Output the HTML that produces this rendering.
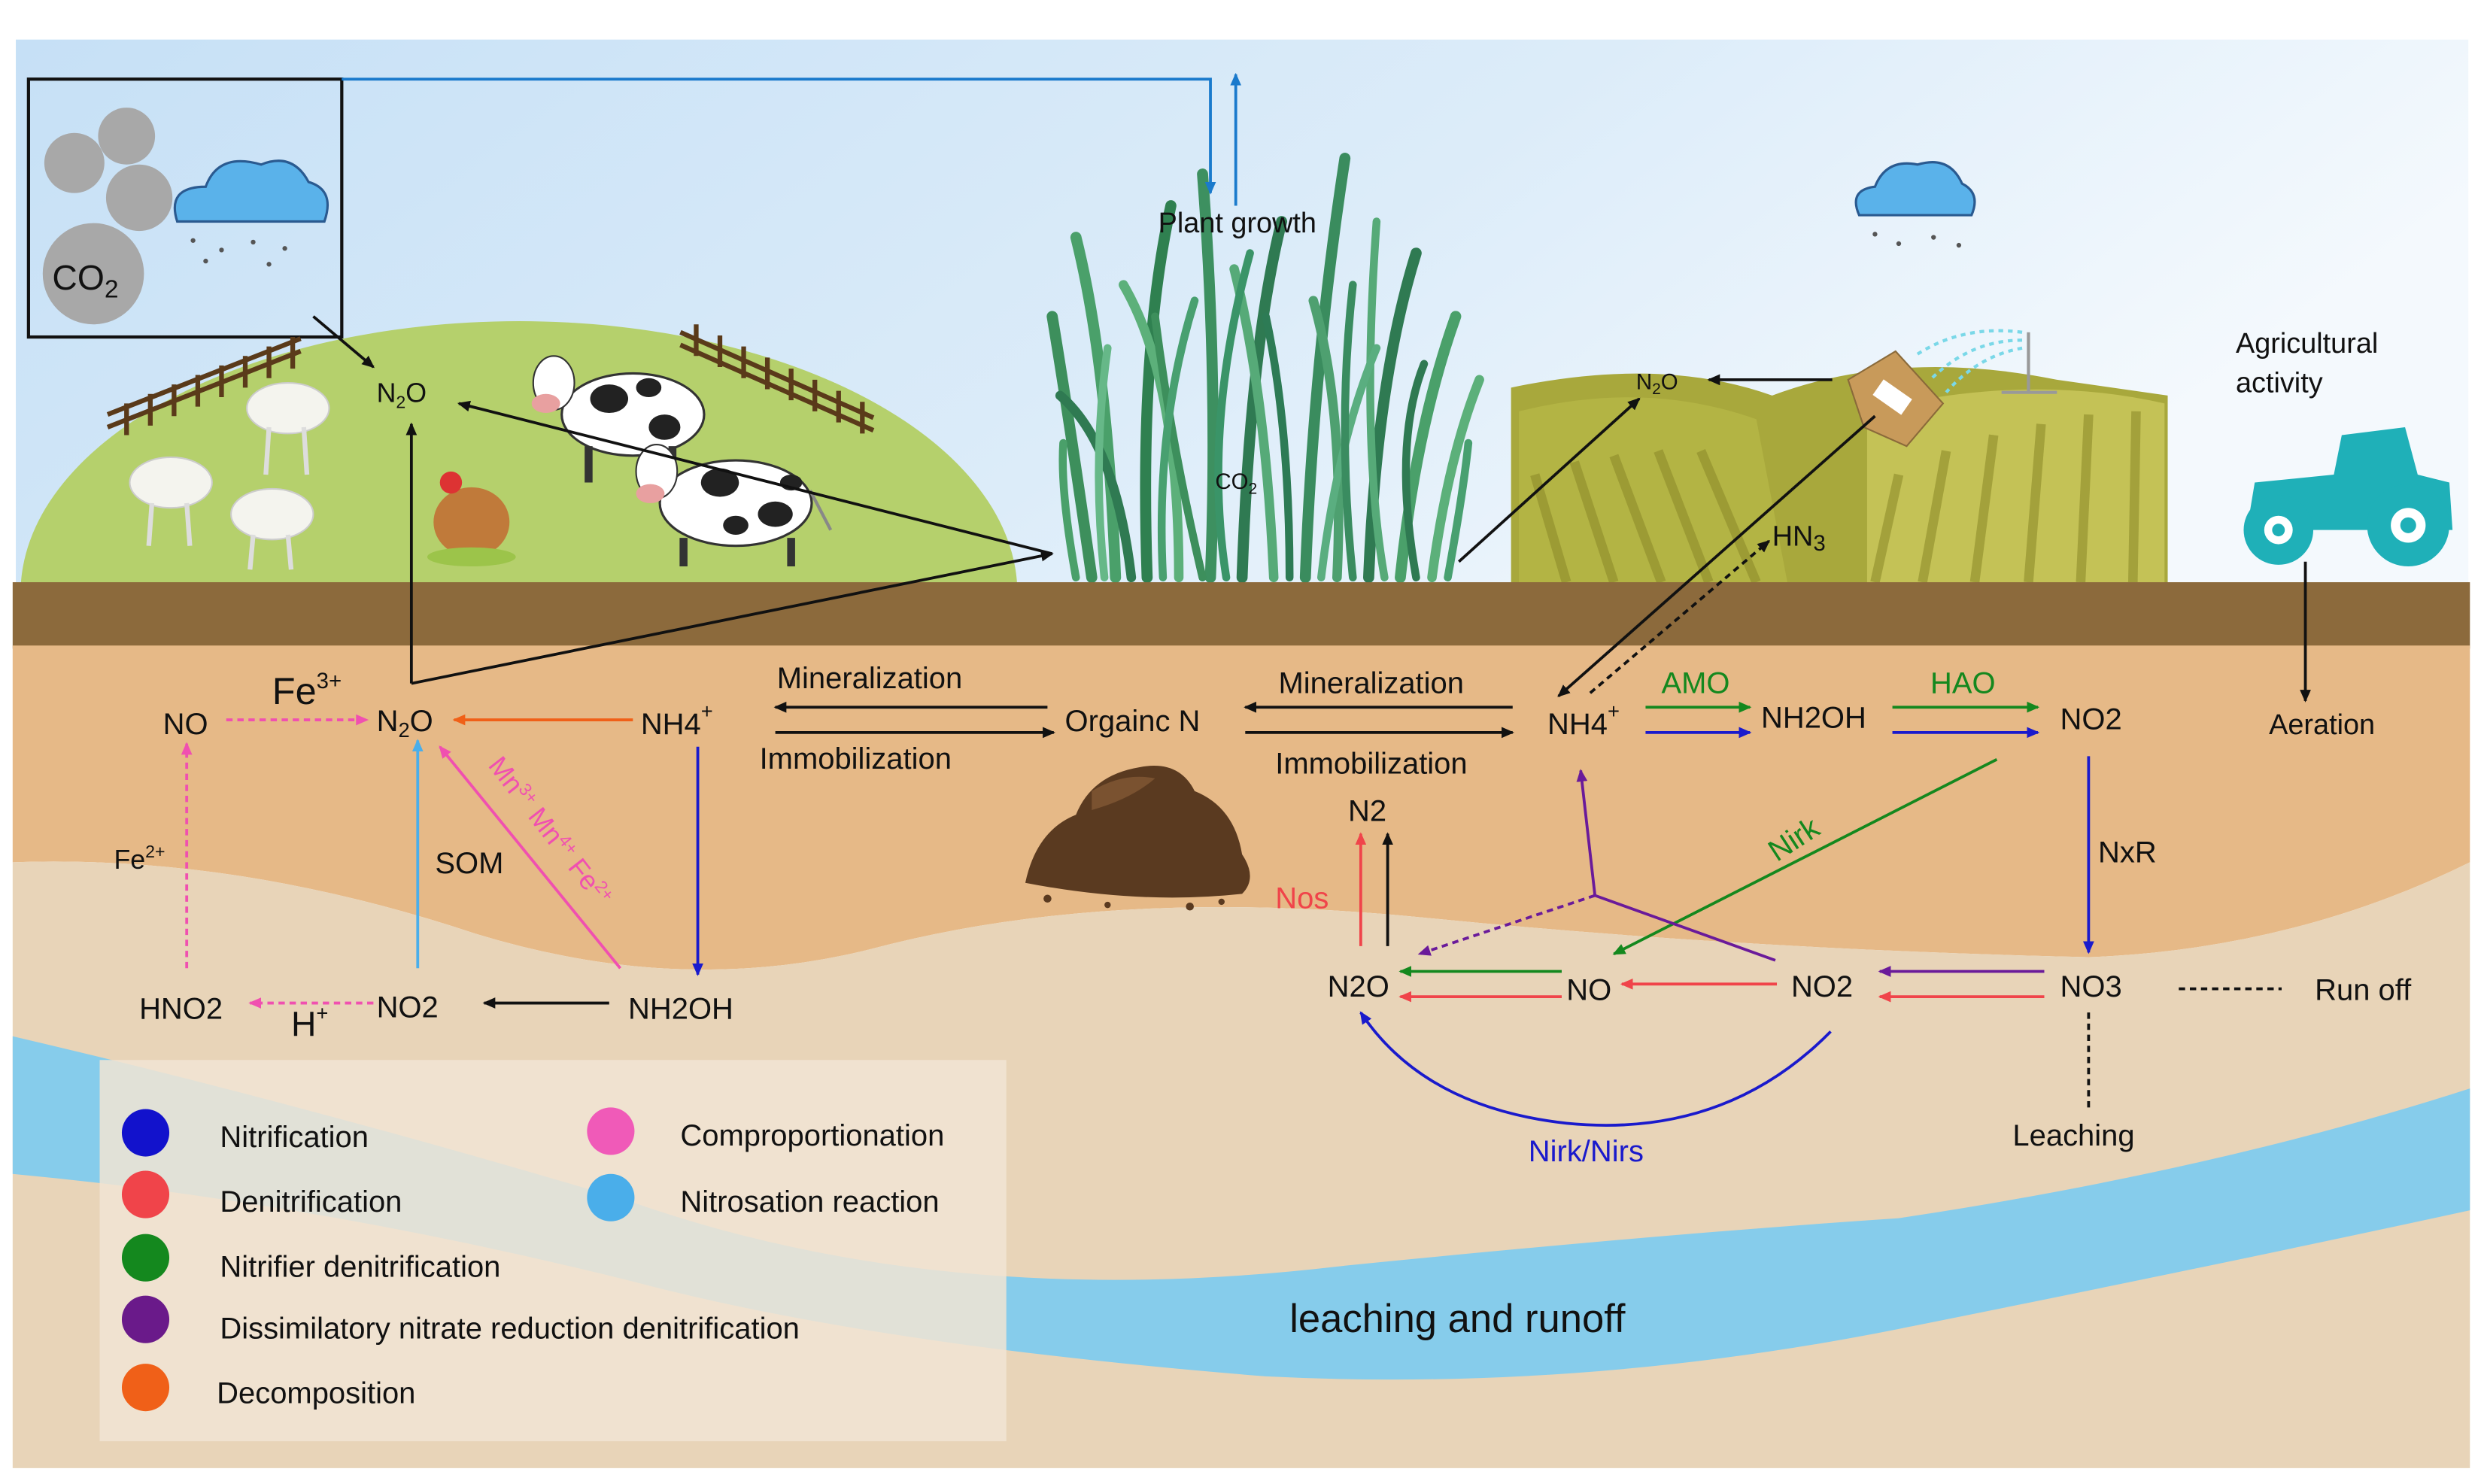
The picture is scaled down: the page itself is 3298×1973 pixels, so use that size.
<!DOCTYPE html>
<html><head><meta charset="utf-8">
<style>
html,body{margin:0;padding:0;background:#fff;}
svg{display:block;}
text{font-family:"Liberation Sans",Arial,sans-serif;}
</style></head>
<body>
<svg width="3298" height="1973" viewBox="0 0 1568 938" xmlns="http://www.w3.org/2000/svg">
<defs>
<linearGradient id="sky" x1="0" y1="0" x2="1" y2="0.3">
<stop offset="0" stop-color="#c6e0f6"/><stop offset="0.6" stop-color="#dcecf9"/><stop offset="1" stop-color="#f4f9fd"/>
</linearGradient>
<marker id="ak" markerWidth="8" markerHeight="8" refX="7" refY="4" orient="auto" markerUnits="userSpaceOnUse"><path d="M0,0.5 L8,4 L0,7.5z" fill="#111"/></marker>
<marker id="ab" markerWidth="8" markerHeight="8" refX="7" refY="4" orient="auto" markerUnits="userSpaceOnUse"><path d="M0,0.5 L8,4 L0,7.5z" fill="#1a1acc"/></marker>
<marker id="ar" markerWidth="8" markerHeight="8" refX="7" refY="4" orient="auto" markerUnits="userSpaceOnUse"><path d="M0,0.5 L8,4 L0,7.5z" fill="#f0444a"/></marker>
<marker id="ag" markerWidth="8" markerHeight="8" refX="7" refY="4" orient="auto" markerUnits="userSpaceOnUse"><path d="M0,0.5 L8,4 L0,7.5z" fill="#14881e"/></marker>
<marker id="ap" markerWidth="8" markerHeight="8" refX="7" refY="4" orient="auto" markerUnits="userSpaceOnUse"><path d="M0,0.5 L8,4 L0,7.5z" fill="#6a1a9a"/></marker>
<marker id="ao" markerWidth="8" markerHeight="8" refX="7" refY="4" orient="auto" markerUnits="userSpaceOnUse"><path d="M0,0.5 L8,4 L0,7.5z" fill="#f06018"/></marker>
<marker id="am" markerWidth="8" markerHeight="8" refX="7" refY="4" orient="auto" markerUnits="userSpaceOnUse"><path d="M0,0.5 L8,4 L0,7.5z" fill="#f050b0"/></marker>
<marker id="al" markerWidth="8" markerHeight="8" refX="7" refY="4" orient="auto" markerUnits="userSpaceOnUse"><path d="M0,0.5 L8,4 L0,7.5z" fill="#4aaeea"/></marker>
<marker id="as" markerWidth="8" markerHeight="8" refX="7" refY="4" orient="auto" markerUnits="userSpaceOnUse"><path d="M0,0.5 L8,4 L0,7.5z" fill="#1a7acc"/></marker>
</defs>

<rect x="10" y="25" width="1550" height="345" fill="url(#sky)"/>
<ellipse cx="328" cy="375" rx="315" ry="172" fill="#b5d06c"/>
<path d="M955,245 Q1050,225 1120,250 Q1200,220 1300,240 L1370,250 L1370,370 L955,370z" fill="#a8a83c"/>
<path d="M960,260 Q1040,240 1110,265 L1130,370 L960,370z" fill="#b3b444"/>
<path d="M1180,260 Q1280,235 1368,255 L1368,370 L1180,370z" fill="#c4c256"/>
<g stroke="#8e8c2a" stroke-width="6" opacity="0.6">
<line x1="970" y1="300" x2="990" y2="368"/><line x1="995" y1="292" x2="1020" y2="368"/><line x1="1020" y1="288" x2="1050" y2="368"/><line x1="1048" y1="285" x2="1080" y2="368"/><line x1="1075" y1="285" x2="1110" y2="368"/>
<line x1="1200" y1="300" x2="1185" y2="368"/><line x1="1230" y1="285" x2="1215" y2="368"/><line x1="1260" y1="275" x2="1248" y2="368"/><line x1="1290" y1="268" x2="1282" y2="368"/><line x1="1320" y1="262" x2="1315" y2="368"/><line x1="1350" y1="260" x2="1348" y2="368"/>
</g>
<!-- grass -->
<g stroke-linecap="round" fill="none">
<path d="M690,365 Q675,260 665,200" stroke="#3d8f5c" stroke-width="7"/>
<path d="M705,365 Q700,230 680,150" stroke="#4aa06a" stroke-width="7"/>
<path d="M725,365 Q720,220 740,130" stroke="#2f8050" stroke-width="7"/>
<path d="M745,365 Q745,240 710,180" stroke="#5cb07a" stroke-width="6"/>
<path d="M765,365 Q770,240 760,110" stroke="#3d9060" stroke-width="7"/>
<path d="M785,365 Q790,220 810,140" stroke="#2f7a52" stroke-width="7"/>
<path d="M805,365 Q800,250 780,170" stroke="#56aa78" stroke-width="6"/>
<path d="M825,365 Q830,230 850,100" stroke="#3a8c5e" stroke-width="7"/>
<path d="M845,365 Q850,260 830,190" stroke="#4ea070" stroke-width="6"/>
<path d="M865,365 Q870,240 895,160" stroke="#2f7a52" stroke-width="7"/>
<path d="M885,365 Q895,270 920,200" stroke="#4aa06a" stroke-width="7"/>
<path d="M905,365 Q915,290 935,240" stroke="#5cb07a" stroke-width="6"/>
<path d="M715,365 Q705,280 670,250" stroke="#2f7a52" stroke-width="6"/>
<path d="M760,365 Q740,280 730,200" stroke="#3d8f5c" stroke-width="5"/>
<path d="M875,365 Q860,280 870,140" stroke="#56aa78" stroke-width="5"/>
<path d="M698,365 Q690,290 700,220" stroke="#66b888" stroke-width="5"/>
<path d="M735,365 Q730,270 755,190" stroke="#48a070" stroke-width="5"/>
<path d="M775,365 Q760,270 790,160" stroke="#3a9468" stroke-width="5"/>
<path d="M815,365 Q815,270 800,200" stroke="#2d7b55" stroke-width="5"/>
<path d="M835,365 Q845,280 870,220" stroke="#5aae80" stroke-width="5"/>
<path d="M855,365 Q845,270 855,180" stroke="#3a8c60" stroke-width="5"/>
<path d="M895,365 Q880,280 900,230" stroke="#2f7a52" stroke-width="5"/>
<path d="M915,365 Q925,310 928,280" stroke="#48a070" stroke-width="5"/>
<path d="M680,365 Q670,310 672,280" stroke="#4aa06a" stroke-width="5"/>
</g>
<rect x="8" y="368" width="1553" height="42" fill="#8c6a3c"/>
<path d="M8,408 L1561,408 L1561,545 Q1450,600 1320,605 Q1100,600 900,580 Q700,560 550,600 Q430,630 300,590 Q150,540 8,545z" fill="#e6b987"/>
<path d="M8,545 Q150,540 300,590 Q430,630 550,600 Q700,560 900,580 Q1100,600 1320,605 Q1450,600 1561,545 L1561,928 L8,928z" fill="#e8d4b8"/>
<path d="M8,655 Q200,700 400,760 Q600,830 850,800 Q1050,780 1200,770 Q1400,740 1561,688 L1561,765 Q1400,800 1200,840 Q1000,880 800,870 Q550,850 400,810 Q200,760 8,742z" fill="#86cceb"/>
<!-- soil heap -->
<path d="M648,558 Q655,525 680,515 Q690,490 720,485 Q745,480 755,500 Q780,510 785,540 Q795,555 785,565 Q720,572 648,558 Z" fill="#5a3a20"/>
<path d="M690,500 Q710,488 730,492 Q715,505 690,512z" fill="#7a5230"/>
<g fill="#5a3a20"><circle cx="662" cy="568" r="2.5"/><circle cx="700" cy="572" r="2"/><circle cx="752" cy="573" r="2.5"/><circle cx="772" cy="570" r="2"/></g>
<rect x="63" y="670" width="573" height="241" fill="#f1e4d4" opacity="0.85"/>

<rect x="18" y="50" width="198" height="163" fill="none" stroke="#111" stroke-width="2"/>
<circle cx="80" cy="86" r="18" fill="#a8a8a8"/>
<circle cx="47" cy="103" r="19" fill="#a8a8a8"/>
<circle cx="88" cy="125" r="21" fill="#a8a8a8"/>
<circle cx="59" cy="173" r="32" fill="#a8a8a8"/>
<text x="33" y="183" font-size="22" fill="#111">CO<tspan font-size="16" dy="5">2</tspan></text>
<g fill="#5ab2ea" stroke="#2a5a90" stroke-width="1.5">
<path d="M112,140 Q105,118 130,118 Q138,96 165,104 Q185,96 195,115 Q212,120 205,140z"/>
<path d="M1175,136 Q1168,120 1185,118 Q1192,100 1212,104 Q1232,98 1240,116 Q1252,122 1246,136z"/>
</g>
<g fill="#555"><circle cx="122" cy="152" r="1.5"/><circle cx="140" cy="158" r="1.5"/><circle cx="160" cy="153" r="1.5"/><circle cx="180" cy="157" r="1.5"/><circle cx="130" cy="165" r="1.5"/><circle cx="170" cy="167" r="1.5"/><circle cx="1185" cy="148" r="1.5"/><circle cx="1200" cy="154" r="1.5"/><circle cx="1222" cy="150" r="1.5"/><circle cx="1238" cy="155" r="1.5"/></g>

<g stroke="#5a3a1a" stroke-width="3">
<line x1="68" y1="270" x2="190" y2="222"/><line x1="68" y1="262" x2="190" y2="214"/>
<line x1="430" y1="218" x2="552" y2="272"/><line x1="430" y1="210" x2="552" y2="264"/>
<line x1="80" y1="255" x2="80" y2="275"/><line x1="95" y1="249" x2="95" y2="269"/><line x1="110" y1="243" x2="110" y2="263"/><line x1="125" y1="237" x2="125" y2="257"/><line x1="140" y1="231" x2="140" y2="251"/><line x1="155" y1="225" x2="155" y2="245"/><line x1="170" y1="219" x2="170" y2="239"/><line x1="185" y1="213" x2="185" y2="233"/>
<line x1="440" y1="205" x2="440" y2="225"/><line x1="455" y1="212" x2="455" y2="232"/><line x1="470" y1="219" x2="470" y2="239"/><line x1="485" y1="226" x2="485" y2="246"/><line x1="500" y1="233" x2="500" y2="253"/><line x1="515" y1="240" x2="515" y2="260"/><line x1="530" y1="247" x2="530" y2="267"/><line x1="545" y1="254" x2="545" y2="274"/>
</g>
<g fill="#f4f4ee" stroke="#ccc">
<ellipse cx="182" cy="258" rx="26" ry="16"/><ellipse cx="108" cy="305" rx="26" ry="16"/><ellipse cx="172" cy="325" rx="26" ry="16"/>
</g>
<g stroke="#ddd" stroke-width="3"><line x1="170" y1="270" x2="168" y2="300"/><line x1="192" y1="270" x2="194" y2="300"/><line x1="96" y1="318" x2="94" y2="345"/><line x1="118" y1="318" x2="120" y2="345"/><line x1="160" y1="338" x2="158" y2="360"/><line x1="182" y1="338" x2="184" y2="360"/></g>
<ellipse cx="298" cy="330" rx="24" ry="22" fill="#c07a3a"/><circle cx="285" cy="305" r="7" fill="#d33"/>
<ellipse cx="298" cy="352" rx="28" ry="6" fill="#9cc44a"/>
<g>
<ellipse cx="400" cy="262" rx="45" ry="26" fill="#fff" stroke="#333" stroke-width="1.5"/>
<ellipse cx="350" cy="242" rx="13" ry="17" fill="#fff" stroke="#333"/>
<ellipse cx="345" cy="255" rx="9" ry="6" fill="#e8a0a0"/>
<ellipse cx="385" cy="252" rx="12" ry="9" fill="#222"/><ellipse cx="420" cy="270" rx="10" ry="8" fill="#222"/><ellipse cx="410" cy="245" rx="8" ry="6" fill="#222"/>
<g stroke="#333" stroke-width="5"><line x1="372" y1="282" x2="372" y2="305"/><line x1="425" y1="282" x2="425" y2="305"/></g>
<ellipse cx="465" cy="318" rx="48" ry="27" fill="#fff" stroke="#333" stroke-width="1.5"/>
<ellipse cx="415" cy="298" rx="13" ry="17" fill="#fff" stroke="#333"/>
<ellipse cx="411" cy="312" rx="9" ry="6" fill="#e8a0a0"/>
<ellipse cx="455" cy="305" rx="12" ry="9" fill="#222"/><ellipse cx="490" cy="325" rx="11" ry="8" fill="#222"/><ellipse cx="465" cy="332" rx="8" ry="6" fill="#222"/><ellipse cx="500" cy="305" rx="7" ry="5" fill="#222"/>
<g stroke="#333" stroke-width="5"><line x1="432" y1="340" x2="432" y2="358"/><line x1="500" y1="340" x2="500" y2="358"/></g>
<line x1="512" y1="310" x2="525" y2="335" stroke="#888" stroke-width="2"/>
</g>
<path d="M1168,240 L1198,222 L1228,255 L1205,282 L1178,270z" fill="#c89a5a" stroke="#8a6a3a"/>
<rect x="1185" y="245" width="22" height="12" fill="#fff" transform="rotate(35 1196 251)"/>
<line x1="1282" y1="210" x2="1282" y2="248" stroke="#999" stroke-width="2"/><line x1="1265" y1="248" x2="1300" y2="248" stroke="#999" stroke-width="2"/>
<g stroke="#7ad8e8" stroke-width="2" stroke-dasharray="3,3" fill="none"><path d="M1278,210 Q1240,205 1210,225"/><path d="M1278,215 Q1245,215 1220,240"/><path d="M1278,220 Q1250,225 1230,248"/></g>
<g fill="#1fb0b8">
<path d="M1425,305 L1475,300 L1480,275 L1520,270 L1528,300 L1548,305 L1550,335 L1420,335z"/>
<circle cx="1440" cy="335" r="22"/><circle cx="1522" cy="332" r="26"/>
</g>
<circle cx="1440" cy="335" r="9" fill="#fff"/><circle cx="1522" cy="332" r="11" fill="#fff"/>
<circle cx="1440" cy="335" r="4" fill="#1fb0b8"/><circle cx="1522" cy="332" r="5" fill="#1fb0b8"/>

<polyline points="216,50 765,50 765,122" fill="none" stroke="#1a7acc" stroke-width="1.8" marker-end="url(#as)"/>
<line x1="781" y1="130" x2="781" y2="47" stroke="#1a7acc" stroke-width="1.8" marker-end="url(#as)"/>
<g stroke="#111" stroke-width="1.8" fill="none">
<line x1="198" y1="200" x2="236" y2="232" marker-end="url(#ak)"/>
<line x1="665" y1="350" x2="290" y2="255" marker-end="url(#ak)"/>
<polyline points="260,432 260,268" marker-end="url(#ak)"/>
<line x1="260" y1="432" x2="665" y2="350" marker-end="url(#ak)"/>
<line x1="922" y1="355" x2="1036" y2="252" marker-end="url(#ak)"/>
<line x1="1158" y1="240" x2="1080" y2="240" marker-end="url(#ak)"/>
<line x1="1185" y1="263" x2="985" y2="440" marker-end="url(#ak)"/>
<line x1="1005" y1="438" x2="1118" y2="342" stroke-dasharray="4,3" marker-end="url(#ak)"/>
<line x1="1457" y1="355" x2="1457" y2="443" marker-end="url(#ak)"/>
</g>
<g font-size="18" fill="#111">
<text x="732" y="147">Plant growth</text>
<text x="238" y="254" font-size="17">N<tspan font-size="11" dy="4">2</tspan><tspan dy="-4">O</tspan></text>
<text x="768" y="309" font-size="14">CO<tspan font-size="10" dy="3">2</tspan></text>
<text x="1034" y="246" font-size="14">N<tspan font-size="10" dy="3">2</tspan><tspan dy="-3">O</tspan></text>
<text x="1120" y="345">HN<tspan font-size="14" dy="3">3</tspan></text>
<text x="1413" y="223">Agricultural</text>
<text x="1413" y="248">activity</text>
<text x="1434" y="464">Aeration</text>
</g>

<g stroke-width="1.8" fill="none">
<line x1="143" y1="455" x2="232" y2="455" stroke="#f050b0" stroke-dasharray="4,3" marker-end="url(#am)"/>
<line x1="400" y1="455" x2="287" y2="455" stroke="#f06018" marker-end="url(#ao)"/>
<line x1="118" y1="612" x2="118" y2="470" stroke="#f050b0" stroke-dasharray="4,3" marker-end="url(#am)"/>
<line x1="264" y1="612" x2="264" y2="468" stroke="#4aaeea" marker-end="url(#al)"/>
<line x1="392" y1="612" x2="278" y2="472" stroke="#f050b0" marker-end="url(#am)"/>
<line x1="441" y1="472" x2="441" y2="616" stroke="#1a1acc" marker-end="url(#ab)"/>
<line x1="385" y1="634" x2="306" y2="634" stroke="#111" marker-end="url(#ak)"/>
<line x1="236" y1="634" x2="158" y2="634" stroke="#f050b0" stroke-dasharray="4,3" marker-end="url(#am)"/>
<line x1="662" y1="447" x2="490" y2="447" stroke="#111" marker-end="url(#ak)"/>
<line x1="490" y1="463" x2="666" y2="463" stroke="#111" marker-end="url(#ak)"/>
<line x1="956" y1="447" x2="787" y2="447" stroke="#111" marker-end="url(#ak)"/>
<line x1="787" y1="463" x2="956" y2="463" stroke="#111" marker-end="url(#ak)"/>
<line x1="1040" y1="447" x2="1106" y2="447" stroke="#14881e" marker-end="url(#ag)"/>
<line x1="1040" y1="463" x2="1106" y2="463" stroke="#1a1acc" marker-end="url(#ab)"/>
<line x1="1196" y1="447" x2="1288" y2="447" stroke="#14881e" marker-end="url(#ag)"/>
<line x1="1196" y1="463" x2="1288" y2="463" stroke="#1a1acc" marker-end="url(#ab)"/>
<line x1="1320" y1="478" x2="1320" y2="602" stroke="#1a1acc" marker-end="url(#ab)"/>
<line x1="1262" y1="480" x2="1020" y2="603" stroke="#14881e" marker-end="url(#ag)"/>
<line x1="860" y1="598" x2="860" y2="527" stroke="#f0444a" marker-end="url(#ar)"/>
<line x1="877" y1="598" x2="877" y2="527" stroke="#111" marker-end="url(#ak)"/>
<line x1="1292" y1="614" x2="1188" y2="614" stroke="#6a1a9a" marker-end="url(#ap)"/>
<line x1="1292" y1="630" x2="1188" y2="630" stroke="#f0444a" marker-end="url(#ar)"/>
<line x1="1123" y1="622" x2="1025" y2="622" stroke="#f0444a" marker-end="url(#ar)"/>
<line x1="987" y1="614" x2="885" y2="614" stroke="#14881e" marker-end="url(#ag)"/>
<line x1="987" y1="630" x2="885" y2="630" stroke="#f0444a" marker-end="url(#ar)"/>
<path d="M1157,652 Q1090,720 990,710 Q900,700 860,640" stroke="#1a1acc" marker-end="url(#ab)"/>
<polyline points="1122,607 1008,566 999,487" stroke="#6a1a9a" marker-end="url(#ap)"/>
<line x1="1008" y1="566" x2="897" y2="603" stroke="#6a1a9a" stroke-dasharray="4,3" marker-end="url(#ap)"/>
<line x1="1377" y1="625" x2="1442" y2="625" stroke="#111" stroke-dasharray="4,3"/>
<line x1="1320" y1="640" x2="1320" y2="700" stroke="#111" stroke-dasharray="4,3"/>
</g>

<g font-size="19" fill="#111">
<text x="103" y="464">NO</text>
<text x="172" y="445" font-size="24">Fe<tspan font-size="14" dy="-10">3+</tspan></text>
<text x="238" y="462">N<tspan font-size="13" dy="4">2</tspan><tspan dy="-4">O</tspan></text>
<text x="405" y="464">NH4<tspan font-size="13" dy="-10">+</tspan></text>
<text x="491" y="435">Mineralization</text>
<text x="480" y="486">Immobilization</text>
<text x="673" y="462">Orgainc N</text>
<text x="808" y="438">Mineralization</text>
<text x="806" y="489">Immobilization</text>
<text x="978" y="464">NH4<tspan font-size="13" dy="-10">+</tspan></text>
<text x="1050" y="438" fill="#14881e">AMO</text>
<text x="1113" y="460">NH2OH</text>
<text x="1220" y="438" fill="#14881e">HAO</text>
<text x="1302" y="461">NO2</text>
<text x="72" y="549" font-size="17">Fe<tspan font-size="11" dy="-7">2+</tspan></text>
<text x="275" y="552">SOM</text>
<text x="0" y="0" font-size="17" fill="#f050b0" transform="translate(308,484) rotate(52)">Mn<tspan font-size="11" dy="-6">3+</tspan><tspan dy="6"> Mn</tspan><tspan font-size="11" dy="-6">4+</tspan><tspan dy="6"> Fe</tspan><tspan font-size="11" dy="-6">2+</tspan></text>
<text x="88" y="644">HNO2</text>
<text x="184" y="655" font-size="22">H<tspan font-size="13" dy="-10">+</tspan></text>
<text x="238" y="643">NO2</text>
<text x="397" y="644">NH2OH</text>
<text x="852" y="519">N2</text>
<text x="806" y="574" fill="#f0444a">Nos</text>
<text x="0" y="0" fill="#14881e" transform="translate(1123,545) rotate(-33)">Nirk</text>
<text x="1326" y="545">NxR</text>
<text x="839" y="630">N2O</text>
<text x="990" y="632">NO</text>
<text x="1132" y="630">NO2</text>
<text x="1302" y="630">NO3</text>
<text x="1463" y="632">Run off</text>
<text x="1272" y="724">Leaching</text>
<text x="966" y="734" fill="#1a1acc">Nirk/Nirs</text>
<text x="815" y="842" font-size="25">leaching and runoff</text>
</g>

<circle cx="92" cy="716" r="15" fill="#1212cc"/>
<circle cx="92" cy="755" r="15" fill="#f0444a"/>
<circle cx="92" cy="795" r="15" fill="#14881e"/>
<circle cx="92" cy="834" r="15" fill="#6a1a8a"/>
<circle cx="92" cy="877" r="15" fill="#f06018"/>
<circle cx="386" cy="715" r="15" fill="#f05ab8"/>
<circle cx="386" cy="757" r="15" fill="#4aaeea"/>
<g font-size="19" fill="#111">
<text x="139" y="725">Nitrification</text>
<text x="139" y="766">Denitrification</text>
<text x="139" y="807">Nitrifier denitrification</text>
<text x="139" y="846">Dissimilatory nitrate reduction denitrification</text>
<text x="137" y="887">Decomposition</text>
<text x="430" y="724">Comproportionation</text>
<text x="430" y="766">Nitrosation reaction</text>
</g>
</svg>
</body></html>
